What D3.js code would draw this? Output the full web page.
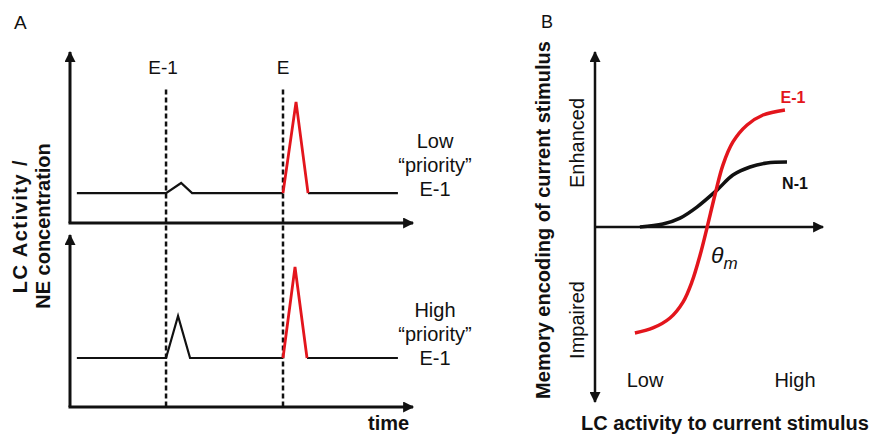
<!DOCTYPE html>
<html>
<head>
<meta charset="utf-8">
<script src="https://cdn.jsdelivr.net/npm/d3@7"></script>
<style>
body { margin: 0; background: #fff; }
text { font-family: "Liberation Sans", Arial, sans-serif; fill: #111; }
</style>
</head>
<body>
<div class="chart"></div>
<script>
// panel A: event times and LC traces (time 0-100, level 0-100)
var eventTimes = [28, 62.1];
var eventLabels = ["E-1", "E"];
var lowTimes = [2, 28, 32.4, 35.6, 62.1, 65.9, 69.4, 95.6];
var lowLevels = [17.5, 17.5, 23.4, 17.5, 17.5, 70.8, 17.5, 17.5];
var highTimes = [2, 28, 31.5, 35, 62.1, 65.6, 69.1, 95.6];
var highLevels = [28.5, 28.5, 52.9, 28.5, 28.5, 81.4, 28.5, 28.5];
var lowLabel = ["Low", "\u201cpriority\u201d", "E-1"];
var highLabel = ["High", "\u201cpriority\u201d", "E-1"];

// panel B: memory encoding vs LC activity (x 0-100, y -100..100)
var e1Activity = [17.5, 25.4, 32.9, 38.6, 42.5, 46.1, 49.1, 52.6, 56.1, 60.5, 66.7, 73.7, 83.3];
var e1Memory = [-60.6, -57.7, -52, -42.9, -31.4, -16, -0.6, 18.3, 35.4, 48.6, 58.3, 64, 66.9];
var n1Activity = [19.7, 29.8, 37.3, 44.7, 53.5, 60.5, 68, 75.4, 84.2];
var n1Memory = [0, 1.7, 5.1, 11.4, 21.1, 29.7, 34.3, 36.6, 37.1];

var width = 874, height = 436;
var red = "#e3151c";

var svg = d3.select(".chart").append("svg")
    .attr("width", width)
    .attr("height", height);

var defs = svg.append("defs");
defs.append("marker")
    .attr("id", "arrow")
    .attr("viewBox", "0 0 10 10")
    .attr("refX", 9)
    .attr("refY", 5)
    .attr("markerWidth", 13)
    .attr("markerHeight", 11)
    .attr("markerUnits", "userSpaceOnUse")
    .attr("orient", "auto-start-reverse")
    .append("path")
    .attr("d", "M0,0L10,5L0,10z")
    .attr("fill", "#111");

// ---------- panel A ----------
var xA = d3.scaleLinear().domain([0, 100]).range([70, 413]);
var yTop = d3.scaleLinear().domain([0, 100]).range([223, 52]);
var yBottom = d3.scaleLinear().domain([0, 100]).range([407, 235]);

svg.append("text").text("A")
    .attr("x", 14).attr("y", 29)
    .style("font-size", "19px");

function drawAxes(y) {
    svg.append("line")
        .attr("x1", xA(0)).attr("y1", y(0))
        .attr("x2", xA(0)).attr("y2", y(100))
        .attr("stroke", "#111").attr("stroke-width", 3)
        .attr("marker-end", "url(#arrow)");
    svg.append("line")
        .attr("x1", xA(0) - 1.5).attr("y1", y(0))
        .attr("x2", xA(100)).attr("y2", y(0))
        .attr("stroke", "#111").attr("stroke-width", 3)
        .attr("marker-end", "url(#arrow)");
}
drawAxes(yTop);
drawAxes(yBottom);

// dashed event lines
svg.selectAll(".event").data(eventTimes).enter()
    .append("line")
    .attr("class", "event")
    .attr("x1", function (d) { return xA(d); })
    .attr("x2", function (d) { return xA(d); })
    .attr("y1", yTop(78))
    .attr("y2", yBottom(0))
    .attr("stroke", "#111")
    .attr("stroke-width", 2.5)
    .attr("stroke-dasharray", "5,3");

svg.selectAll(".eventLabel").data(eventLabels).enter()
    .append("text")
    .attr("class", "eventLabel")
    .text(function (d) { return d; })
    .attr("x", function (d, i) { return xA(eventTimes[i]) - (i == 0 ? 3 : 0); })
    .attr("y", 74)
    .attr("text-anchor", "middle")
    .style("font-size", "19px");

function drawTrace(times, levels, y) {
    var pts = times.map(function (t, i) { return [t, levels[i]]; });
    var line = d3.line()
        .x(function (d) { return xA(d[0]); })
        .y(function (d) { return y(d[1]); });
    // black parts before and after the red spike at E
    [pts.slice(0, 5), pts.slice(6)].forEach(function (seg) {
        svg.append("path").attr("d", line(seg))
            .attr("fill", "none").attr("stroke", "#111").attr("stroke-width", 2.2);
    });
    svg.append("path").attr("d", line(pts.slice(4, 7)))
        .attr("fill", "none").attr("stroke", red).attr("stroke-width", 2.8);
}
drawTrace(lowTimes, lowLevels, yTop);
drawTrace(highTimes, highLevels, yBottom);

function sideLabel(lines, y0) {
    svg.append("g").selectAll("text").data(lines).enter()
        .append("text")
        .text(function (d) { return d; })
        .attr("x", 435)
        .attr("y", function (d, i) { return y0 + i * 24; })
        .attr("text-anchor", "middle")
        .style("font-size", "20px");
}
sideLabel(lowLabel, 148);
sideLabel(highLabel, 317);

var yLabA = svg.append("text")
    .attr("transform", "translate(27,226) rotate(-90)")
    .attr("text-anchor", "middle")
    .style("font-size", "20px")
    .style("font-weight", "bold");
yLabA.append("tspan").attr("x", 0).attr("y", 0).text("LC Activity /")
    .style("letter-spacing", "1.5px");
yLabA.append("tspan").attr("x", 0).attr("y", 23).text("NE concentration");

svg.append("text").text("time")
    .attr("x", 368).attr("y", 430)
    .style("font-size", "20px")
    .style("font-weight", "bold");

// ---------- panel B ----------
var xB = d3.scaleLinear().domain([0, 100]).range([595, 823]);
var yB = d3.scaleLinear().domain([-100, 100]).range([402, 52]);

svg.append("text").text("B")
    .attr("x", 541).attr("y", 28)
    .style("font-size", "18px");

svg.append("line")
    .attr("x1", xB(0)).attr("y1", yB(-100))
    .attr("x2", xB(0)).attr("y2", yB(100))
    .attr("stroke", "#111").attr("stroke-width", 2.5)
    .attr("marker-start", "url(#arrow)")
    .attr("marker-end", "url(#arrow)");
svg.append("line")
    .attr("x1", xB(0)).attr("y1", yB(0))
    .attr("x2", xB(100)).attr("y2", yB(0))
    .attr("stroke", "#111").attr("stroke-width", 2.5)
    .attr("marker-end", "url(#arrow)");

var curve = d3.line()
    .x(function (d) { return xB(d[0]); })
    .y(function (d) { return yB(d[1]); })
    .curve(d3.curveCatmullRom);

svg.append("path")
    .attr("d", curve(n1Activity.map(function (x, i) { return [x, n1Memory[i]]; })))
    .attr("fill", "none").attr("stroke", "#111").attr("stroke-width", 3.5);
svg.append("path")
    .attr("d", curve(e1Activity.map(function (x, i) { return [x, e1Memory[i]]; })))
    .attr("fill", "none").attr("stroke", red).attr("stroke-width", 3.5);

svg.append("text").text("E-1")
    .attr("x", 793).attr("y", 103)
    .attr("text-anchor", "middle")
    .style("font-size", "16px").style("font-weight", "bold")
    .style("fill", red);
svg.append("text").text("N-1")
    .attr("x", 795).attr("y", 189)
    .attr("text-anchor", "middle")
    .style("font-size", "16px").style("font-weight", "bold");

var theta = svg.append("text")
    .attr("x", 711).attr("y", 263)
    .style("font-size", "23px").style("font-style", "italic");
theta.append("tspan").text("\u03b8");
theta.append("tspan").text("m").attr("dy", 6).style("font-size", "17px");

svg.append("text").text("Low")
    .attr("x", 645).attr("y", 387)
    .attr("text-anchor", "middle")
    .style("font-size", "20px");
svg.append("text").text("High")
    .attr("x", 795).attr("y", 387)
    .attr("text-anchor", "middle")
    .style("font-size", "20px");

svg.append("text").text("Enhanced")
    .attr("transform", "translate(584,143) rotate(-90)")
    .attr("text-anchor", "middle")
    .style("font-size", "20px");
svg.append("text").text("Impaired")
    .attr("transform", "translate(584,320) rotate(-90)")
    .attr("text-anchor", "middle")
    .style("font-size", "20px");

svg.append("text").text("Memory encoding of current stimulus")
    .attr("transform", "translate(550,220) rotate(-90)")
    .attr("text-anchor", "middle")
    .style("font-size", "20px").style("font-weight", "bold");

svg.append("text").text("LC activity to current stimulus")
    .attr("x", 725).attr("y", 430)
    .attr("text-anchor", "middle")
    .style("font-size", "20px").style("font-weight", "bold");
</script>
</body>
</html>
